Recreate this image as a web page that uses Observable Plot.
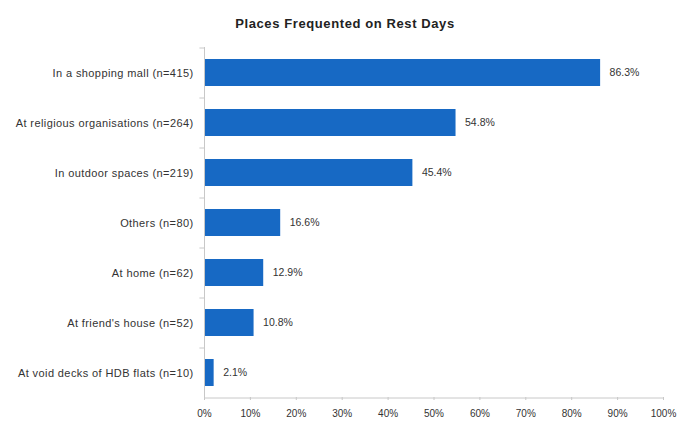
<!DOCTYPE html>
<html>
<head>
<meta charset="utf-8">
<script src="https://cdn.jsdelivr.net/npm/d3@7"></script>
<script src="https://cdn.jsdelivr.net/npm/@observablehq/plot@0.6"></script>
<style>
  html, body { margin: 0; padding: 0; background: #fff; }
  #wrap { width: 678px; height: 425px; position: relative; }
  #title { height: 35px; line-height: 47px; text-align: center; padding-left: 12px;
    font-family: "Liberation Sans", Arial, sans-serif; font-weight: bold; font-size: 13px;
    letter-spacing: 0.6px; color: #222; box-sizing: border-box; }
  #chart svg g[aria-label="y-axis tick label"] text { letter-spacing: 0.4px; }
</style>
</head>
<body>
<div id="wrap">
  <div id="title">Places Frequented on Rest Days</div>
  <div id="chart"></div>
</div>
<script>
const categories = [
  "In a shopping mall (n=415)",
  "At religious organisations (n=264)",
  "In outdoor spaces (n=219)",
  "Others (n=80)",
  "At home (n=62)",
  "At friend's house (n=52)",
  "At void decks of HDB flats (n=10)"
];
const values = [86.3, 54.8, 45.4, 16.6, 12.9, 10.8, 2.1];
const valueLabels = ["86.3%", "54.8%", "45.4%", "16.6%", "12.9%", "10.8%", "2.1%"];
const xTicks = [0, 10, 20, 30, 40, 50, 60, 70, 80, 90, 100];

const data = categories.map((c, i) => ({category: c, value: values[i], label: valueLabels[i]}));
const last = [data[data.length - 1]];

const chart = Plot.plot({
  width: 678,
  height: 390,
  marginTop: 12,
  marginBottom: 28,
  marginLeft: 204,
  marginRight: 15,
  style: {fontFamily: "'Liberation Sans', Arial, sans-serif", background: "#fff"},
  x: {domain: [0, 100]},
  y: {domain: categories, paddingInner: 0.46, paddingOuter: 0.23},
  marks: [
    Plot.barX(data, {x: "value", y: "category", fill: "#1769c4"}),
    Plot.ruleX([0], {stroke: "#c8c8c8"}),
    Plot.ruleY(data, {y: "category", x1: -1, x2: 0, dy: -25, stroke: "#c8c8c8"}),
    Plot.ruleY(last, {y: "category", x1: 0, x2: 100, dy: 25, stroke: "#c8c8c8"}),
    Plot.axisX({ticks: xTicks, tickFormat: d => d + "%", tickSize: 3, tickPadding: 9,
      stroke: "#c8c8c8", fill: "#333", fontSize: 10, label: null}),
    Plot.axisY({tickSize: 0, tickPadding: 11, fill: "#333", fontSize: 11, label: null}),
    Plot.text(data, {x: "value", y: "category", text: "label", textAnchor: "start", dx: 9,
      fill: "#333", fontSize: 10.5})
  ]
});
document.getElementById("chart").appendChild(chart);
</script>
</body>
</html>
